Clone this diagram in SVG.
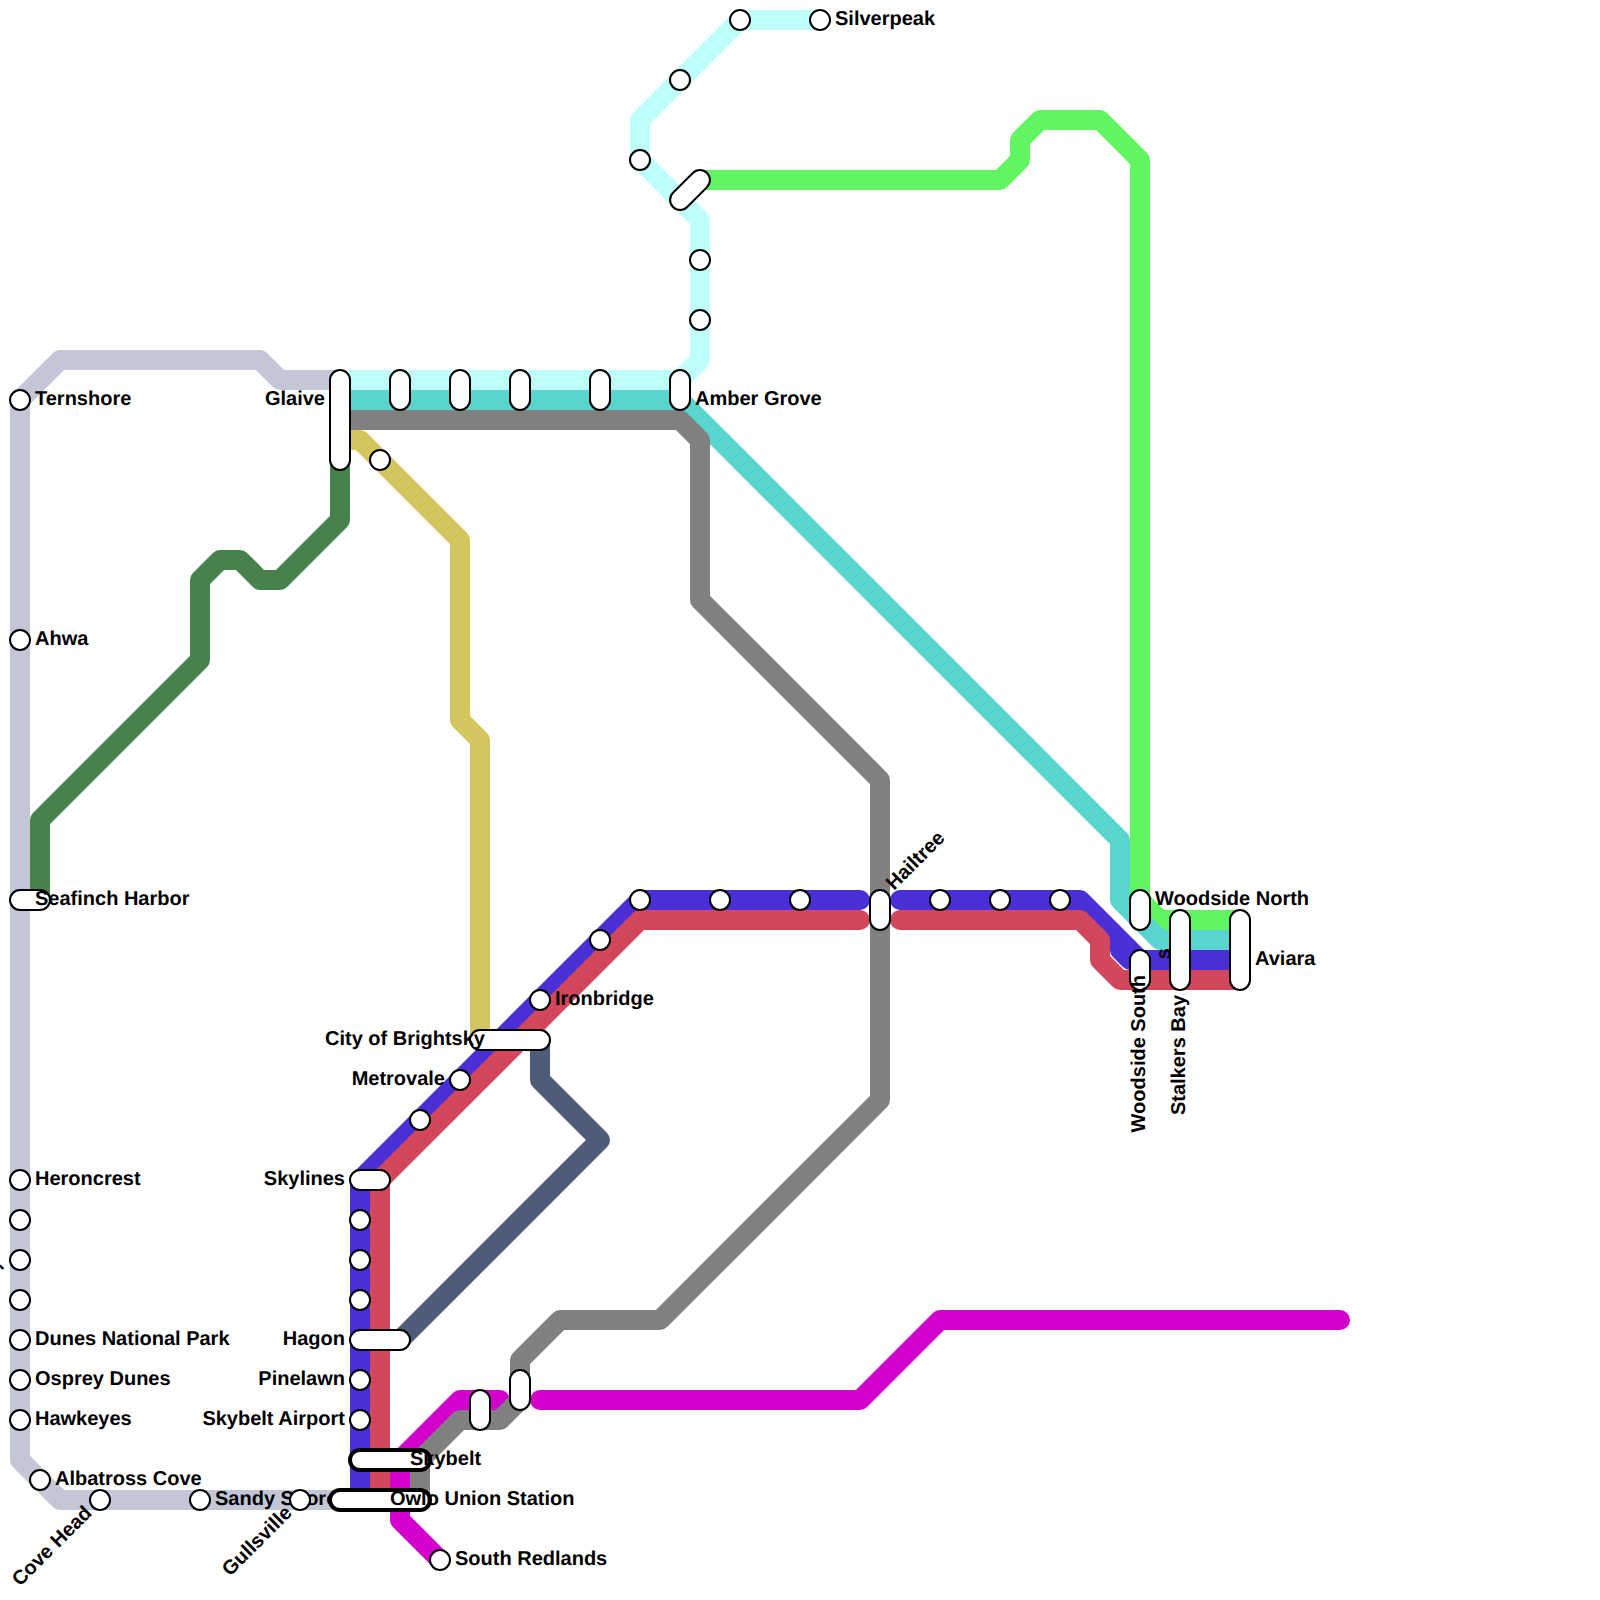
<svg xmlns="http://www.w3.org/2000/svg" width="1600" height="1600" viewBox="0 0 1600 1600">
<style>
.l{fill:none;stroke-width:20;stroke-linecap:round;stroke-linejoin:round}
.s{fill:#fff;stroke:#000;stroke-width:2}
.h{fill:#fff;stroke:#000;stroke-width:4}
text{font-family:"Liberation Sans",Arial,sans-serif;font-weight:700;font-size:20px;fill:#000;text-rendering:geometricPrecision}
.e{text-anchor:end}
</style>
<rect width="1600" height="1600" fill="#fff"/>
<g id="connectors">
<path class="l" stroke="#c2c6d6" d="M340 380H280L260 360H60L20 400V1460L60 1500H340"/>
<path class="l" stroke="#46824a" d="M340 460V520L280 580H260L240 560H220L200 580V660L40 820V900"/>
<path class="l" stroke="#bffffa" d="M820 20H740L640 120V160L700 220V360L680 380H340"/>
<path class="l" stroke="#62f562" d="M700 180H1000L1020 160V140L1040 120H1100L1140 160V900L1160 920H1240"/>
<path class="l" stroke="#5ad4cf" d="M340 400H680L1120 840V900L1160 940H1240"/>
<path class="l" stroke="#d3c65e" d="M340 440H360L460 540V720L480 740V1040"/>
<path class="l" stroke="#4f5b7a" d="M400 1340L600 1140L540 1080V1040"/>
<path class="l" stroke="#d300cd" d="M1340 1320H940L860 1400H540M500 1400H460L400 1460V1520L440 1560"/>
<path class="l" stroke="#808080" d="M340 420H680L700 440V600L880 780V1100L660 1320H560L520 1360V1400L500 1420H460L420 1460V1500"/>
<path class="l" stroke="#4b2fd6" d="M360 1500V1180L640 900H860M900 900H1080L1140 960H1240M1120 940V950L1130 960"/>
<path class="l" stroke="#d2475c" d="M380 1500V1180L640 920H860M900 920H1080L1100 940V960L1120 980H1240"/>
</g>
<g id="n-glaive"><rect class="s" x="330" y="370" width="20" height="100" rx="10"/><text class="e" x="325" y="405">Glaive</text></g>
<g id="n-a1"><rect class="s" x="390" y="370" width="20" height="40" rx="10"/></g>
<g id="n-a2"><rect class="s" x="450" y="370" width="20" height="40" rx="10"/></g>
<g id="n-a3"><rect class="s" x="510" y="370" width="20" height="40" rx="10"/></g>
<g id="n-a4"><rect class="s" x="590" y="370" width="20" height="40" rx="10"/></g>
<g id="n-amber"><rect class="s" x="670" y="370" width="20" height="40" rx="10"/><text x="695" y="405">Amber Grove</text></g>
<g id="n-y1"><circle class="s" cx="380" cy="460" r="10"/></g>
<g id="n-c1"><circle class="s" cx="700" cy="260" r="10"/></g>
<g id="n-c2"><circle class="s" cx="700" cy="320" r="10"/></g>
<g id="n-c3"><rect class="s" x="666" y="180" width="48" height="20" rx="10" transform="rotate(-45 690 190)"/></g>
<g id="n-c4"><circle class="s" cx="640" cy="160" r="10"/></g>
<g id="n-c5"><circle class="s" cx="680" cy="80" r="10"/></g>
<g id="n-c6"><circle class="s" cx="740" cy="20" r="10"/></g>
<g id="n-silverpeak"><circle class="s" cx="820" cy="20" r="10"/><text x="835" y="25">Silverpeak</text></g>
<g id="n-ternshore"><circle class="s" cx="20" cy="400" r="10"/><text x="35" y="405">Ternshore</text></g>
<g id="n-ahwa"><circle class="s" cx="20" cy="640" r="10"/><text x="35" y="645">Ahwa</text></g>
<g id="n-seafinch"><rect class="s" x="10" y="890" width="40" height="20" rx="10"/><text x="35" y="905">Seafinch Harbor</text></g>
<g id="n-heroncrest"><circle class="s" cx="20" cy="1180" r="10"/><text x="35" y="1185">Heroncrest</text></g>
<g id="n-g1"><circle class="s" cx="20" cy="1220" r="10"/></g>
<g id="n-g2"><text transform="translate(-4.4 1268.6) rotate(45)">-</text><circle class="s" cx="20" cy="1260" r="10"/></g>
<g id="n-g3"><circle class="s" cx="20" cy="1300" r="10"/></g>
<g id="n-dunes"><circle class="s" cx="20" cy="1340" r="10"/><text x="35" y="1345">Dunes National Park</text></g>
<g id="n-osprey"><circle class="s" cx="20" cy="1380" r="10"/><text x="35" y="1385">Osprey Dunes</text></g>
<g id="n-hawkeyes"><circle class="s" cx="20" cy="1420" r="10"/><text x="35" y="1425">Hawkeyes</text></g>
<g id="n-albatross"><circle class="s" cx="40" cy="1480" r="10"/><text x="55" y="1485">Albatross Cove</text></g>
<g id="n-cove"><circle class="s" cx="100" cy="1500" r="10"/><text class="e" transform="translate(93 1514) rotate(-45)">Cove Head</text></g>
<g id="n-sandy"><circle class="s" cx="200" cy="1500" r="10"/><text x="215" y="1505">Sandy Shores</text></g>
<g id="n-gullsville"><circle class="s" cx="300" cy="1500" r="10"/><text class="e" transform="translate(293 1514) rotate(-45)">Gullsville</text></g>
<g id="n-skylines"><rect class="s" x="350" y="1170" width="40" height="20" rx="10"/><text class="e" x="345" y="1185">Skylines</text></g>
<g id="n-b1"><circle class="s" cx="360" cy="1220" r="10"/></g>
<g id="n-b2"><circle class="s" cx="360" cy="1260" r="10"/></g>
<g id="n-b3"><circle class="s" cx="360" cy="1300" r="10"/></g>
<g id="n-hagon"><rect class="s" x="350" y="1330" width="60" height="20" rx="10"/><text class="e" x="345" y="1345">Hagon</text></g>
<g id="n-pinelawn"><circle class="s" cx="360" cy="1380" r="10"/><text class="e" x="345" y="1385">Pinelawn</text></g>
<g id="n-airport"><circle class="s" cx="360" cy="1420" r="10"/><text class="e" x="345" y="1425">Skybelt Airport</text></g>
<g id="n-skybelt"><rect class="h" x="350" y="1450" width="80" height="20" rx="10"/><text x="410" y="1465">Skybelt</text></g>
<g id="n-owlo"><rect class="h" x="330" y="1490" width="100" height="20" rx="10"/><text x="390" y="1505">Owlo Union Station</text></g>
<g id="n-redlands"><circle class="s" cx="440" cy="1560" r="10"/><text x="455" y="1565">South Redlands</text></g>
<g id="n-p1"><rect class="s" x="470" y="1390" width="20" height="40" rx="10"/></g>
<g id="n-p2"><rect class="s" x="510" y="1370" width="20" height="40" rx="10"/></g>
<g id="n-d1"><circle class="s" cx="420" cy="1120" r="10"/></g>
<g id="n-metrovale"><circle class="s" cx="460" cy="1080" r="10"/><text class="e" x="445" y="1085">Metrovale</text></g>
<g id="n-brightsky"><rect class="s" x="470" y="1030" width="80" height="20" rx="10"/><text class="e" x="485" y="1045">City of Brightsky</text></g>
<g id="n-ironbridge"><circle class="s" cx="540" cy="1000" r="10"/><text x="555" y="1005">Ironbridge</text></g>
<g id="n-d2"><circle class="s" cx="600" cy="940" r="10"/></g>
<g id="n-d3"><circle class="s" cx="640" cy="900" r="10"/></g>
<g id="n-d4"><circle class="s" cx="720" cy="900" r="10"/></g>
<g id="n-d5"><circle class="s" cx="800" cy="900" r="10"/></g>
<g id="n-hailtree"><rect class="s" x="870" y="890" width="20" height="40" rx="10"/><text transform="translate(894 891) rotate(-45)">Hailtree</text></g>
<g id="n-e1"><circle class="s" cx="940" cy="900" r="10"/></g>
<g id="n-e2"><circle class="s" cx="1000" cy="900" r="10"/></g>
<g id="n-e3"><circle class="s" cx="1060" cy="900" r="10"/></g>
<g id="n-wnorth"><rect class="s" x="1130" y="890" width="20" height="40" rx="10"/><text x="1155" y="905">Woodside North</text></g>
<g id="n-wsouth"><rect class="s" x="1130" y="950" width="20" height="40" rx="10"/><text class="e" transform="translate(1145 975) rotate(-90)">Woodside South</text></g>
<g id="n-stalkers"><text class="e" transform="translate(1170 948) rotate(-90)">s</text><rect class="s" x="1170" y="910" width="20" height="80" rx="10"/><text class="e" transform="translate(1185 995) rotate(-90)">Stalkers Bay</text></g>
<g id="n-aviara"><rect class="s" x="1230" y="910" width="20" height="80" rx="10"/><text x="1255" y="965">Aviara</text></g>
</svg>
